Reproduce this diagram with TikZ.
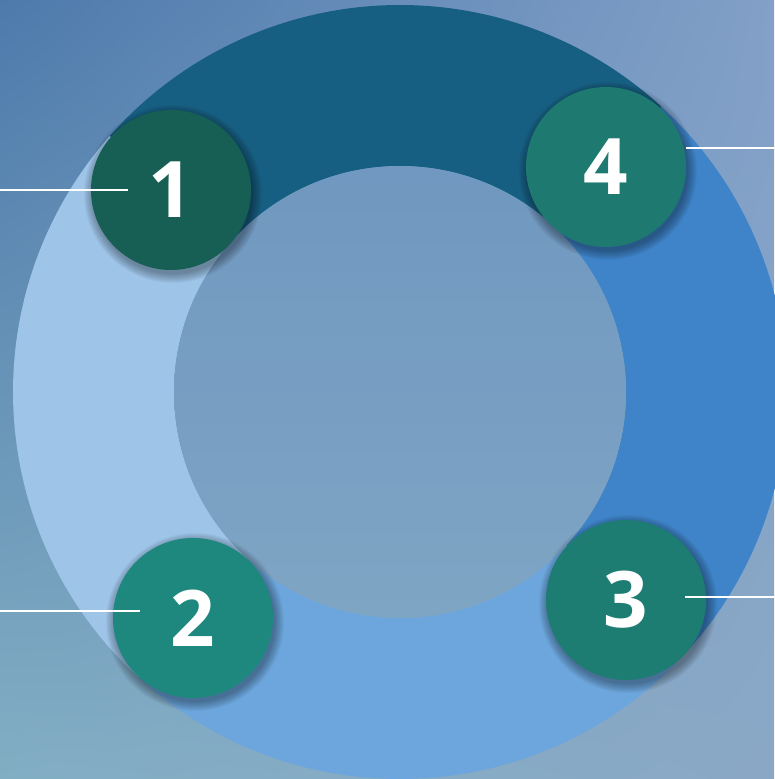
\documentclass[tikz,border=0pt]{standalone}
\usepackage{fontspec}
\setmainfont{Open Sans}
\usetikzlibrary{calc,shadings}
\definecolor{bgTL}{HTML}{4D7AAB}
\definecolor{bgTR}{HTML}{82A0C8}
\definecolor{bgBL}{HTML}{82AEC4}
\definecolor{bgBR}{HTML}{8AA8C6}
\definecolor{segTop}{HTML}{175F82}
\definecolor{segRight}{HTML}{3F84C8}
\definecolor{segBottom}{HTML}{6CA6DC}
\definecolor{segLeft}{HTML}{9EC4E8}
\definecolor{innerTop}{HTML}{7098C0}
\definecolor{innerBot}{HTML}{7FA5C4}
\definecolor{cOne}{HTML}{175E55}
\definecolor{cTwo}{HTML}{1F887E}
\definecolor{cThree}{HTML}{1E7D72}
\definecolor{cFour}{HTML}{1E7A70}
\tikzset{
  badge/.style={circle, minimum size=160pt, inner sep=0pt, text=white,
    font=\fontsize{78}{78}\selectfont\bfseries},
  softshade/.style={fill=black, fill opacity=0.035},
  leader/.style={draw=white, line width=2pt}
}
\newcommand{\annsector}[3]{%
  \fill[#3] ($(c)+(#1:387)$) arc[start angle=#1, end angle=#2, radius=387]
    -- ($(c)+(#2:226)$) arc[start angle=#2, end angle=#1, radius=226] -- cycle;}
\newcommand{\softshadow}[1]{%
  \foreach \k in {0,...,9} {\fill[softshade] ($(#1)+(2,-4)$) circle[radius=80+\k*1.0];}}
\begin{document}
\begin{tikzpicture}[x=1pt,y=1pt]
\useasboundingbox (0,0) rectangle (774,779);
\shade[upper left=bgTL, upper right=bgTR, lower left=bgBL, lower right=bgBR] (0,0) rectangle (774,779);
\coordinate (c) at (400,387);
\annsector{47.5}{138.6}{segTop}
\annsector{-42.6}{47.5}{segRight}
\annsector{-132.5}{-42.6}{segBottom}
\annsector{138.6}{227.5}{segLeft}
\shade[top color=innerTop, bottom color=innerBot] (c) circle[radius=226];
\coordinate (p1) at (171,589);
\coordinate (p4) at (606,612);
\coordinate (p3) at (626,179);
\coordinate (p2) at (193,161);
\softshadow{p1}\softshadow{p2}\softshadow{p3}\softshadow{p4}
\node[badge, fill=cOne]   (n1) at (p1) {1};
\node[badge, fill=cFour]  (n4) at (p4) {4};
\node[badge, fill=cThree] (n3) at (p3) {3};
\node[badge, fill=cTwo]   (n2) at (p2) {2};
\coordinate (e1) at (0,589);   \coordinate (s1) at (128,589);
\coordinate (e2) at (0,168);   \coordinate (s2) at (140,168);
\coordinate (e4) at (774,631); \coordinate (s4) at (686,631);
\coordinate (e3) at (774,182); \coordinate (s3) at (685,182);
\draw[leader] (e1) -- (s1);
\draw[leader] (e2) -- (s2);
\draw[leader] (s4) -- (e4);
\draw[leader] (s3) -- (e3);
\end{tikzpicture}
\end{document}
